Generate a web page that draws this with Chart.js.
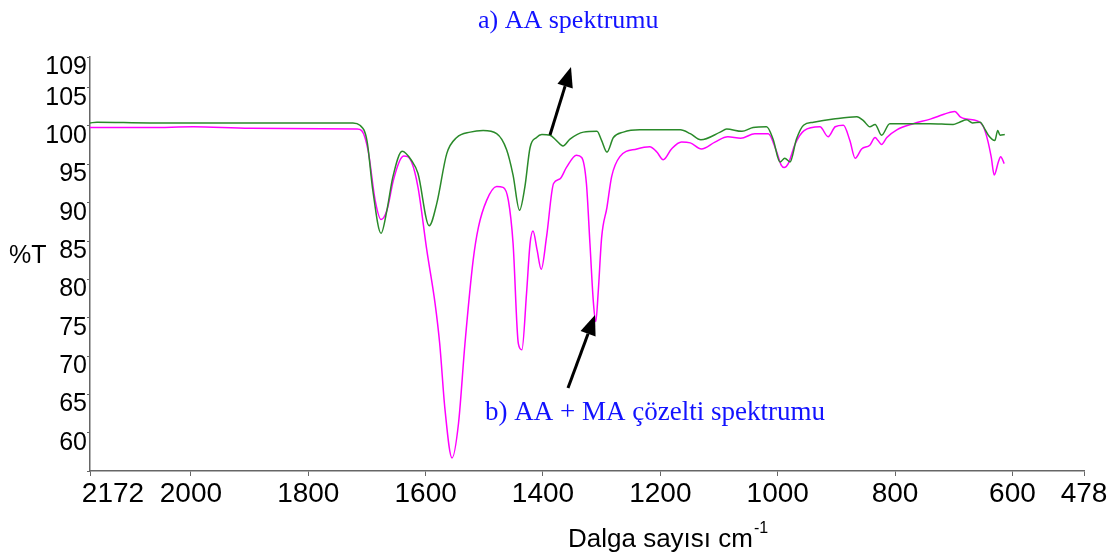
<!DOCTYPE html>
<html>
<head>
<meta charset="utf-8">
<script src="https://cdn.jsdelivr.net/npm/chart.js@4.4.0/dist/chart.umd.min.js"></script>
<style>
  html, body { margin: 0; padding: 0; background: #fff; }
  #wrap { width: 1117px; height: 558px; }
</style>
</head>
<body>
<div id="wrap"><canvas id="spectrum" width="1117" height="558"></canvas></div>
<script>
// eixo x (numero de onda) e eixo y (%T)
const xTicks = [2172, 2000, 1800, 1600, 1400, 1200, 1000, 800, 600, 478];
const yTicks = [55, 60, 65, 70, 75, 80, 85, 90, 95, 100, 105, 109];

// a) AA spektrumu
const aaWave = [2172, 2160, 2070, 1899, 1724, 1712, 1700, 1690, 1676, 1666, 1656, 1640, 1624, 1613, 1594, 1581, 1564, 1547, 1524, 1502,
  1479, 1462, 1451, 1440, 1431, 1422, 1411, 1402, 1388, 1377, 1366, 1354, 1331, 1308, 1300, 1291, 1280, 1263, 1235, 1166,
  1149, 1131, 1098, 1087, 1061, 1042, 1019, 1008, 996, 988, 979, 968, 956, 939, 905, 865, 854, 843, 834, 823,
  809, 740, 701, 690, 678, 668, 655, 647, 641, 630, 625, 621, 613];
const aaT = [100.4, 100.5, 100.4, 100.4, 100.4, 100.1, 98.1, 91.6, 86.0, 89.0, 93.3, 96.7, 95.5, 93.8, 87.0, 89.9, 96.4, 98.5, 99.2, 99.4,
  99.0, 96.9, 93.6, 89.0, 92.0, 97.2, 98.5, 98.9, 98.8, 98.1, 97.4, 98.3, 99.2, 99.3, 98.1, 96.6, 98.5, 99.2, 99.5, 99.5,
  99.0, 98.2, 99.2, 99.6, 99.3, 99.8, 99.9, 98.3, 95.3, 95.8, 95.3, 98.3, 100.1, 100.5, 100.9, 101.2, 100.7, 99.9, 100.2, 98.8,
  100.3, 100.3, 100.2, 100.5, 100.8, 100.4, 100.5, 99.6, 98.8, 98.1, 99.4, 98.8, 98.9];

// b) AA + MA cozelti spektrumu
const mixWave = [2172, 2070, 1996, 1899, 1717, 1709, 1698, 1686, 1676, 1666, 1655, 1644, 1637, 1624, 1613, 1598, 1584, 1576, 1567, 1555,
  1544, 1533, 1519, 1510, 1496, 1479, 1468, 1459, 1451, 1442, 1436, 1428, 1422, 1417, 1410, 1403, 1394, 1382, 1371, 1360,
  1343, 1334, 1326, 1320, 1314, 1310, 1306, 1300, 1291, 1283, 1269, 1240, 1218, 1206, 1195, 1181, 1164, 1149, 1130, 1107,
  1085, 1063, 1039, 1016, 1003, 994, 989, 982, 970, 955, 928, 914, 902, 888, 877, 868, 857, 843, 834, 829,
  823, 814, 797, 769, 740, 718, 706, 698, 689, 678, 661, 650, 642, 636, 631, 624, 620, 614];
const mixT = [99.8, 99.8, 99.9, 99.7, 99.6, 99.4, 96.8, 90.3, 87.8, 89.0, 92.9, 95.5, 96.1, 95.3, 92.0, 83.8, 76.9, 71.6, 63.0, 56.7,
  61.2, 71.6, 82.5, 86.8, 90.3, 92.1, 92.0, 90.3, 84.7, 71.6, 70.8, 78.2, 84.7, 86.3, 83.8, 81.3, 85.5, 92.5, 93.1, 94.6,
  96.2, 95.9, 92.5, 84.7, 76.9, 74.5, 78.2, 85.5, 89.4, 93.4, 96.0, 97.0, 97.3, 96.6, 95.6, 97.0, 97.9, 97.8, 97.0, 97.9,
  98.6, 98.4, 99.0, 99.0, 96.9, 94.9, 94.6, 95.1, 97.7, 99.4, 99.9, 98.6, 99.9, 100.1, 98.1, 95.8, 97.0, 97.5, 98.5, 98.1,
  97.6, 98.5, 99.5, 100.3, 100.9, 101.5, 101.8, 101.9, 101.2, 100.9, 100.7, 100.0, 98.1, 95.9, 93.6, 95.3, 96.0, 95.1];

const toPoints = (xs, ys) => xs.map((x, i) => ({ x: x, y: ys[i] }));

function arrow(ctx, x1, y1, x2, y2) {
  const a = Math.atan2(y2 - y1, x2 - x1);
  const len = 20, half = 8;
  const bx = x2 - len * Math.cos(a), by = y2 - len * Math.sin(a);
  ctx.beginPath();
  ctx.moveTo(x1, y1);
  ctx.lineTo(bx, by);
  ctx.stroke();
  ctx.beginPath();
  ctx.moveTo(x2, y2);
  ctx.lineTo(bx + half * Math.sin(a), by - half * Math.cos(a));
  ctx.lineTo(bx - half * Math.sin(a), by + half * Math.cos(a));
  ctx.closePath();
  ctx.fill();
}

// textos, setas e rotulos do eixo x
const extras = {
  id: 'extras',
  afterDraw(chart) {
    const ctx = chart.ctx;
    const xs = chart.scales.x;
    ctx.save();
    ctx.fillStyle = '#000';
    ctx.font = '28px Arial, "Liberation Sans"';
    ctx.textAlign = 'center';
    ctx.textBaseline = 'middle';
    xTicks.forEach((v, i) => {
      const px = xs.getPixelForValue(v) + (i === 0 ? 23 : 0);
      ctx.fillText(String(v), px, 494);
    });

    ctx.textAlign = 'left';
    ctx.font = '25px Arial, "Liberation Sans"';
    ctx.fillText('%T', 9, 256);

    ctx.textBaseline = 'alphabetic';
    ctx.font = '26px Arial, "Liberation Sans"';
    const t = 'Dalga sayısı cm';
    ctx.fillText(t, 568, 547);
    const w = ctx.measureText(t).width;
    ctx.font = '16px Arial, "Liberation Sans"';
    ctx.fillText('-1', 568 + w + 1, 533);

    ctx.fillStyle = '#1212ff';
    ctx.font = '26px "Liberation Serif", "Times New Roman", serif';
    ctx.fillText('a) AA spektrumu', 478, 28);
    ctx.font = '27px "Liberation Serif", "Times New Roman", serif';
    ctx.fillText('b) AA + MA çözelti spektrumu', 485, 420);

    ctx.strokeStyle = '#000';
    ctx.fillStyle = '#000';
    ctx.lineWidth = 3;
    arrow(ctx, 550, 135, 571, 67);
    arrow(ctx, 568, 388, 595, 315);
    ctx.restore();
  }
};

new Chart(document.getElementById('spectrum'), {
  type: 'line',
  data: {
    datasets: [
      { label: 'AA', data: toPoints(aaWave, aaT), borderColor: '#2a8a2a', borderWidth: 1.5 },
      { label: 'AA + MA', data: toPoints(mixWave, mixT), borderColor: '#ff00ff', borderWidth: 1.5 }
    ]
  },
  options: {
    responsive: false,
    animation: false,
    layout: { padding: { top: 57, right: 33, left: 0, bottom: 0 } },
    elements: { point: { radius: 0 }, line: { cubicInterpolationMode: 'monotone', fill: false } },
    plugins: { legend: { display: false }, tooltip: { enabled: false } },
    scales: {
      x: {
        type: 'linear', reverse: true, min: 478, max: 2172,
        afterBuildTicks: s => { s.ticks = xTicks.map(v => ({ value: v })); },
        afterFit: s => { s.height = 87; },
        border: { color: '#666', width: 1.5 },
        grid: { drawOnChartArea: false, tickLength: 5, color: '#666' },
        ticks: { display: false }
      },
      y: {
        min: 55, max: 109,
        afterBuildTicks: s => { s.ticks = yTicks.map(v => ({ value: v })); },
        afterFit: s => { s.width = 90; },
        border: { color: '#666', width: 1.5 },
        grid: { drawOnChartArea: false, tickLength: 3, color: '#666' },
        ticks: {
          color: '#000', padding: 0, labelOffset: 10,
          font: { size: 25, family: 'Arial, "Liberation Sans"' },
          callback: v => (v === 55 ? '' : v)
        }
      }
    }
  },
  plugins: [extras]
});
</script>
</body>
</html>
